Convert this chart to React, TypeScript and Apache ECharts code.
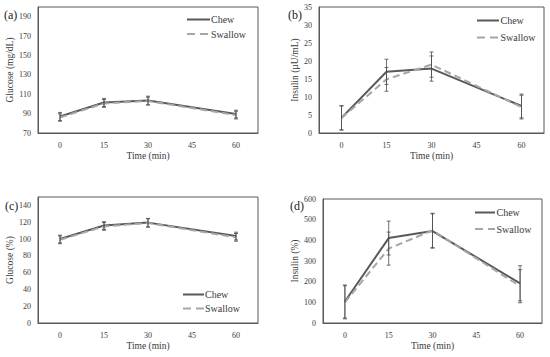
import React, { useEffect, useRef } from "react";
import * as echarts from "echarts";

const categories = ["0", "15", "30", "45", "60"];

const glucoseChew = [87, 101.5, 103.5, null, 89.5];
const glucoseChewErr = [4.2, 4.2, 4.5, null, 4];
const glucoseSwallow = [86, 100.5, 103, null, 88.5];
const glucoseSwallowErr = [3.8, 4, 4, null, 4];

const insulinChew = [4.2, 17, 17.9, null, 7.5];
const insulinChewErr = [3.4, 3.5, 3.5, null, 3.3];
const insulinSwallow = [4.2, 14.9, 19, null, 7.2];
const insulinSwallowErr = [3.3, 3.3, 3.5, null, 3.3];

const glucosePctChew = [100, 116, 119.5, null, 103.5];
const glucosePctChewErr = [4.6, 4.6, 5, null, 4.6];
const glucosePctSwallow = [99, 115, 119, null, 102];
const glucosePctSwallowErr = [4.6, 4.6, 5, null, 4.6];

const insulinPctChew = [104, 411, 445, null, 192];
const insulinPctChewErr = [80, 82, 83, null, 85];
const insulinPctSwallow = [100, 360, 448, null, 178];
const insulinPctSwallowErr = [80, 80, 83, null, 80];

const panelLabels = ["(a)", "(b)", "(c)", "(d)"];
const yNames = ["Glucose (mg/dL)", "Insulin (\u00b5U/mL)", "Glucose (%)", "Insulin (%)"];
const xName = "Time (min)";
const legendNames = ["Chew", "Swallow"];

const FONT = "serif";
const TEXT = "#3a3a3a";
const CHEW = "#595959";
const SWALLOW = "#a6a6a6";
const BAR = "#4d4d4d";

function errData(vals: (number | null)[], errs: (number | null)[]) {
  const out: number[][] = [];
  vals.forEach((v, i) => {
    const e = errs[i];
    if (v != null && e != null) out.push([i, v - e, v + e]);
  });
  return out;
}

export default function App() {
  const ref = useRef<HTMLDivElement>(null);
  useEffect(() => {
    if (!ref.current) return;
    const chart = echarts.init(ref.current, undefined, { renderer: "svg" });

    const grids = [
      { left: 38, top: 7, width: 220, height: 126 },
      { left: 319, top: 7, width: 225, height: 126 },
      { left: 38, top: 197, width: 220, height: 126 },
      { left: 323, top: 199, width: 219, height: 124 },
    ];
    const yCfg = [
      { min: 70, max: 200, interval: 10, fmt: (v: number) => ((v - 70) % 20 === 0 && v < 200 ? String(v) : ""), gap: 21 },
      { min: 0, max: 35, interval: 5, fmt: (v: number) => String(v), gap: 18 },
      { min: 0, max: 150, interval: 10, fmt: (v: number) => (v % 20 === 0 ? String(v) : ""), gap: 21 },
      { min: 0, max: 600, interval: 100, fmt: (v: number) => String(v), gap: 21 },
    ];
    const dataSets = [
      [glucoseChew, glucoseChewErr, glucoseSwallow, glucoseSwallowErr],
      [insulinChew, insulinChewErr, insulinSwallow, insulinSwallowErr],
      [glucosePctChew, glucosePctChewErr, glucosePctSwallow, glucosePctSwallowErr],
      [insulinPctChew, insulinPctChewErr, insulinPctSwallow, insulinPctSwallowErr],
    ];
    const legendPos = [
      { x1: 187, x2: 210, tx: 211, y: 19.5, gap: 14.5 },
      { x1: 477, x2: 499, tx: 500.5, y: 20.5, gap: 17 },
      { x1: 183, x2: 204, tx: 205, y: 294.5, gap: 14 },
      { x1: 475, x2: 495, tx: 496.5, y: 212.5, gap: 16.5 },
    ];
    const labelPos = [
      { x: 4, y: 15 },
      { x: 288, y: 15 },
      { x: 5, y: 206 },
      { x: 290, y: 206 },
    ];

    const xAxis: any[] = [];
    const yAxis: any[] = [];
    const series: any[] = [];
    const graphic: any[] = [];

    grids.forEach((g, i) => {
      xAxis.push({
        type: "category",
        gridIndex: i,
        data: categories,
        boundaryGap: true,
        name: xName,
        nameLocation: "middle",
        nameGap: 18,
        nameTextStyle: { fontFamily: FONT, fontSize: 9.5, color: TEXT },
        axisLine: { lineStyle: { color: CHEW, width: 1 } },
        axisTick: { alignWithLabel: true, length: 3, lineStyle: { color: CHEW } },
        axisLabel: { fontFamily: FONT, fontSize: 8, color: TEXT, margin: 8 },
        splitLine: { show: false },
      });
      const yc = yCfg[i];
      yAxis.push({
        type: "value",
        gridIndex: i,
        min: yc.min,
        max: yc.max,
        interval: yc.interval,
        name: yNames[i],
        nameLocation: "middle",
        nameGap: yc.gap,
        nameTextStyle: { fontFamily: FONT, fontSize: 9.5, color: TEXT },
        axisLine: { show: true, lineStyle: { color: CHEW, width: 1 } },
        axisTick: { show: false },
        axisLabel: { fontFamily: FONT, fontSize: 8, color: TEXT, margin: 7, formatter: yc.fmt, showMaxLabel: true },
        splitLine: { show: false },
      });
      const [cv, ce, sv, se] = dataSets[i] as (number | null)[][];
      const renderErr = (params: any, api: any) => {
        const x = api.value(0);
        const lo = api.coord([x, api.value(1)]);
        const hi = api.coord([x, api.value(2)]);
        const w = 2;
        const st = { stroke: BAR, lineWidth: 0.8 };
        return {
          type: "group",
          children: [
            { type: "line", shape: { x1: lo[0], y1: lo[1], x2: hi[0], y2: hi[1] }, style: st },
            { type: "line", shape: { x1: lo[0] - w, y1: lo[1], x2: lo[0] + w, y2: lo[1] }, style: st },
            { type: "line", shape: { x1: hi[0] - w, y1: hi[1], x2: hi[0] + w, y2: hi[1] }, style: st },
          ],
        };
      };
      series.push({
        type: "line",
        name: legendNames[0],
        xAxisIndex: i,
        yAxisIndex: i,
        data: cv,
        connectNulls: true,
        symbol: "none",
        lineStyle: { color: CHEW, width: 2 },
        z: 2,
      });
      series.push({
        type: "line",
        name: legendNames[1],
        xAxisIndex: i,
        yAxisIndex: i,
        data: sv,
        connectNulls: true,
        symbol: "none",
        lineStyle: { color: SWALLOW, width: 2, type: [7, 4] },
        z: 3,
      });
      series.push({
        type: "custom",
        xAxisIndex: i,
        yAxisIndex: i,
        data: errData(cv, ce),
        renderItem: renderErr,
        z: 4,
      });
      series.push({
        type: "custom",
        xAxisIndex: i,
        yAxisIndex: i,
        data: errData(sv, se),
        renderItem: renderErr,
        z: 4,
      });

      const lp = legendPos[i];
      graphic.push({
        type: "line",
        shape: { x1: lp.x1, y1: lp.y, x2: lp.x2, y2: lp.y },
        style: { stroke: CHEW, lineWidth: 2 },
      });
      graphic.push({
        type: "text",
        x: lp.tx,
        y: lp.y,
        style: { text: legendNames[0], fontFamily: FONT, fontSize: 10, fill: TEXT, verticalAlign: "middle", align: "left" },
      });
      graphic.push({
        type: "line",
        shape: { x1: lp.x1, y1: lp.y + lp.gap, x2: lp.x2, y2: lp.y + lp.gap },
        style: { stroke: SWALLOW, lineWidth: 2, lineDash: [8, 5] },
      });
      graphic.push({
        type: "text",
        x: lp.tx,
        y: lp.y + lp.gap,
        style: { text: legendNames[1], fontFamily: FONT, fontSize: 10, fill: TEXT, verticalAlign: "middle", align: "left" },
      });
      const pl = labelPos[i];
      graphic.push({
        type: "text",
        x: pl.x,
        y: pl.y,
        style: { text: panelLabels[i], fontFamily: FONT, fontSize: 12, fill: "#222", verticalAlign: "middle", align: "left" },
      });
    });

    chart.setOption({
      animation: false,
      backgroundColor: "#ffffff",
      textStyle: { fontFamily: FONT },
      grid: grids.map((g) => ({ ...g, show: true, borderColor: CHEW, borderWidth: 1, backgroundColor: "transparent", containLabel: false })),
      xAxis,
      yAxis,
      series,
      graphic,
    });
    return () => chart.dispose();
  }, []);
  return <div ref={ref} style={{ position: "fixed", left: 0, top: 0, width: 550, height: 357 }} />;
}
